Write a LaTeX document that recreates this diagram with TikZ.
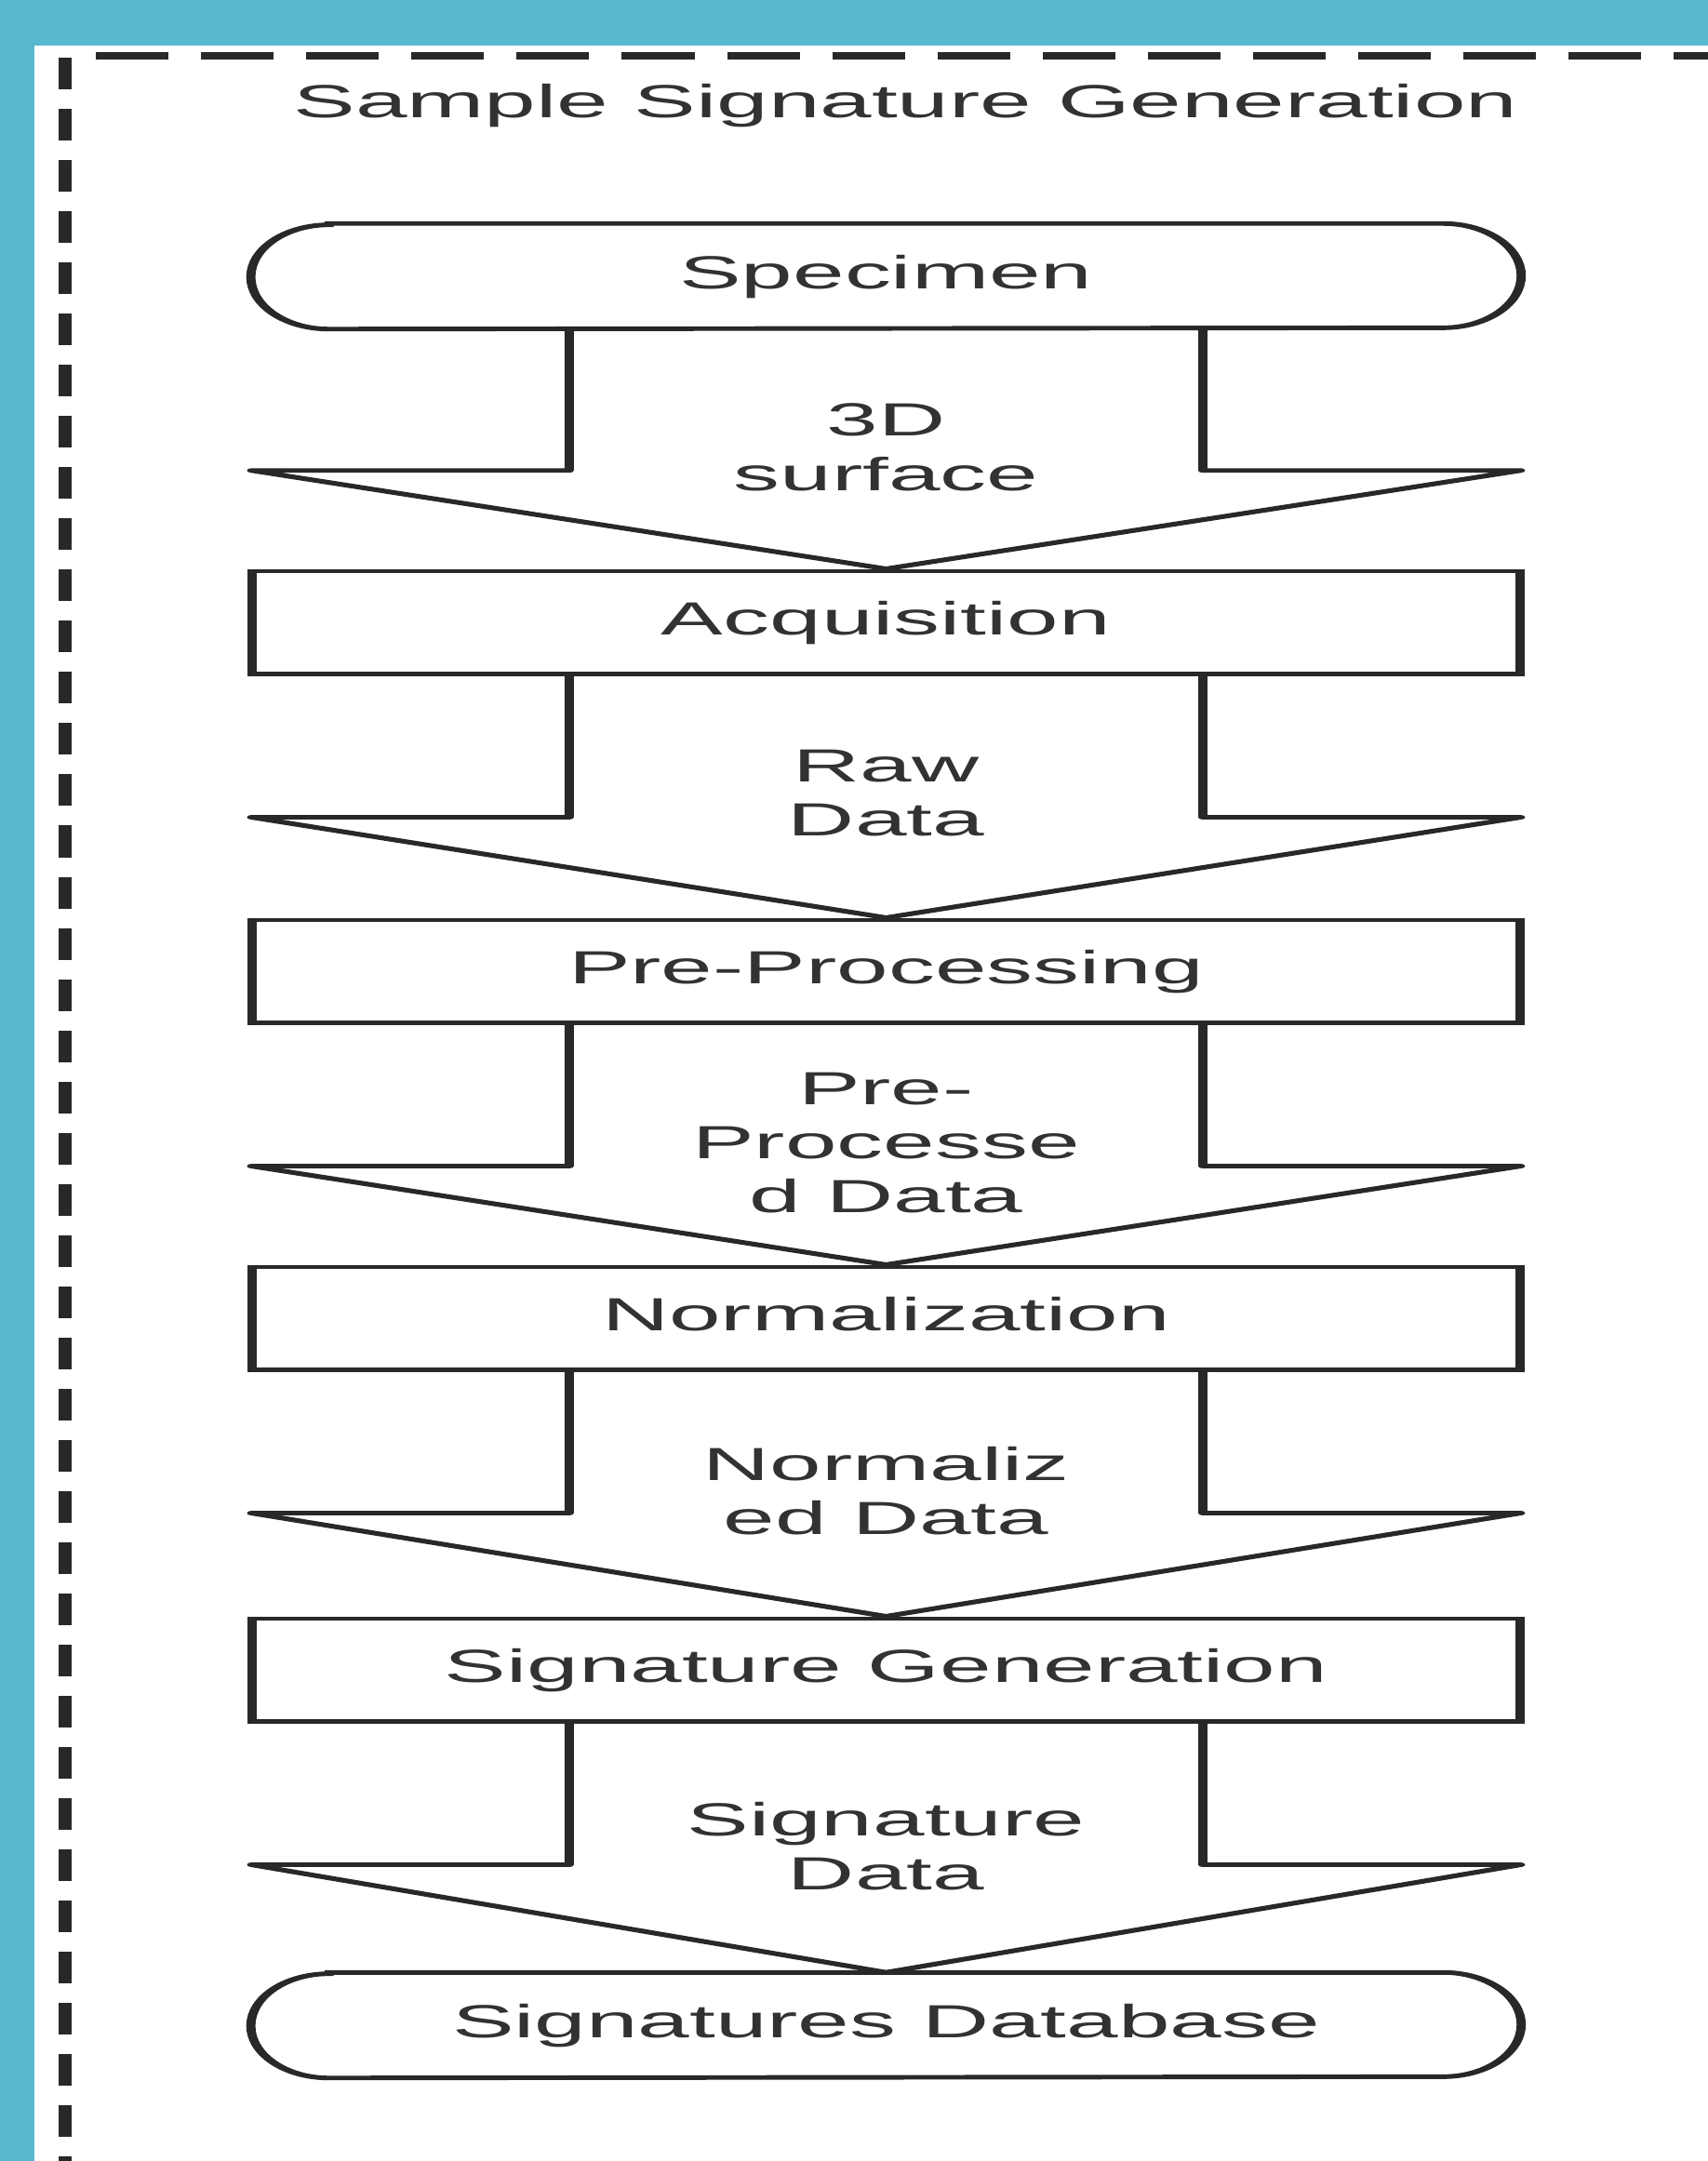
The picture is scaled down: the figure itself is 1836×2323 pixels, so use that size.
\documentclass[tikz,border=0pt]{standalone}
\usepackage{fontspec}
\setmainfont{Liberation Sans}
\usetikzlibrary{calc}
\definecolor{bandblue}{RGB}{88,184,208}
\definecolor{ink}{RGB}{40,40,40}
\definecolor{txt}{RGB}{50,50,50}
\tikzset{
  labelfont/.style={font=\fontsize{14.2}{16.6}\selectfont, text=txt},
  stage/.style={labelfont, draw=ink, line width=1.4pt, minimum width=6.81cm, minimum height=1.10cm,
    inner sep=0pt, text height=10.2pt, text depth=2.8pt},
  term/.style={labelfont, minimum width=6.81cm, minimum height=1.12cm, inner sep=0pt,
    text height=10.2pt, text depth=2.8pt},
  outline/.style={draw=ink, line width=1.4pt},
  flow/.style={draw=ink, line width=1.4pt, line join=round},
  flowlabel/.style={labelfont, align=center, inner sep=0pt},
  border/.style={draw=ink, line width=2pt}
}
\begin{document}
\begin{tikzpicture}[x=0.01cm,y=-0.01cm]
\useasboundingbox (0,0) rectangle (1836,2323);
\fill[white] (0,0) rectangle (1836,2323);
\fill[bandblue] (0,0) rectangle (1836,49);
\fill[bandblue] (0,0) rectangle (37,2323);
\begin{scope}[transform canvas={xscale=2}, x=0.005cm, y=-0.01cm]
  % dashed frame
  \draw[border, dash pattern=on 0.39cm off 0.175cm] (103,60) -- (1836,60);
  \draw[border, dash pattern=on 0.34cm off 0.21cm] (70,62) -- (70,2323);
  % title
  \node[labelfont, anchor=base] (title) at (972,126) {Sample Signature Generation};
  % stages
  \node[term] (spec) at (951,297) {Specimen};
  \node[stage] (acq) at (951,669) {Acquisition};
  \node[stage] (pre) at (951,1044) {Pre-Processing};
  \node[stage] (norm) at (951,1417) {Normalization};
  \node[stage] (sig) at (951,1795) {Signature Generation};
  \node[term] (db) at (951,2177) {Signatures Database};
  % terminator outlines
  \foreach \t in {spec,db}{
    \draw[outline] ($(\t.north west)+(0.42cm,0)$) -- ($(\t.north east)+(-0.42cm,0)$)
      arc[start angle=90, end angle=-90, x radius=0.42cm, y radius=0.56cm]
      -- ($(\t.south west)+(0.42cm,0)$)
      arc[start angle=270, end angle=90, x radius=0.42cm, y radius=0.56cm] -- cycle;
  }
  % block arrows
  \foreach \a/\b in {spec/acq, acq/pre, pre/norm, norm/sig, sig/db}{
    \draw[flow] ($(\a.south)+(-340,0)$) -- ($(\a.south)+(-340,152)$) -- ($(\a.south)+(-681,152)$)
      -- (\b.north) -- ($(\a.south)+(681,152)$) -- ($(\a.south)+(340,152)$) -- ($(\a.south)+(340,0)$);
  }
  % arrow labels
  \node[flowlabel] (l1) at ($(spec.south)+(0,127)$) {3D\\surface};
  \node[flowlabel] (l2) at ($(acq.south)+(0,126)$) {Raw\\Data};
  \node[flowlabel] (l3) at ($(pre.south)+(0,127)$) {Pre-\\Processe\\d Data};
  \node[flowlabel] (l4) at ($(norm.south)+(0,128)$) {Normaliz\\ed Data};
  \node[flowlabel] (l5) at ($(sig.south)+(0,132)$) {Signature\\Data};
\end{scope}
\end{tikzpicture}
\end{document}
